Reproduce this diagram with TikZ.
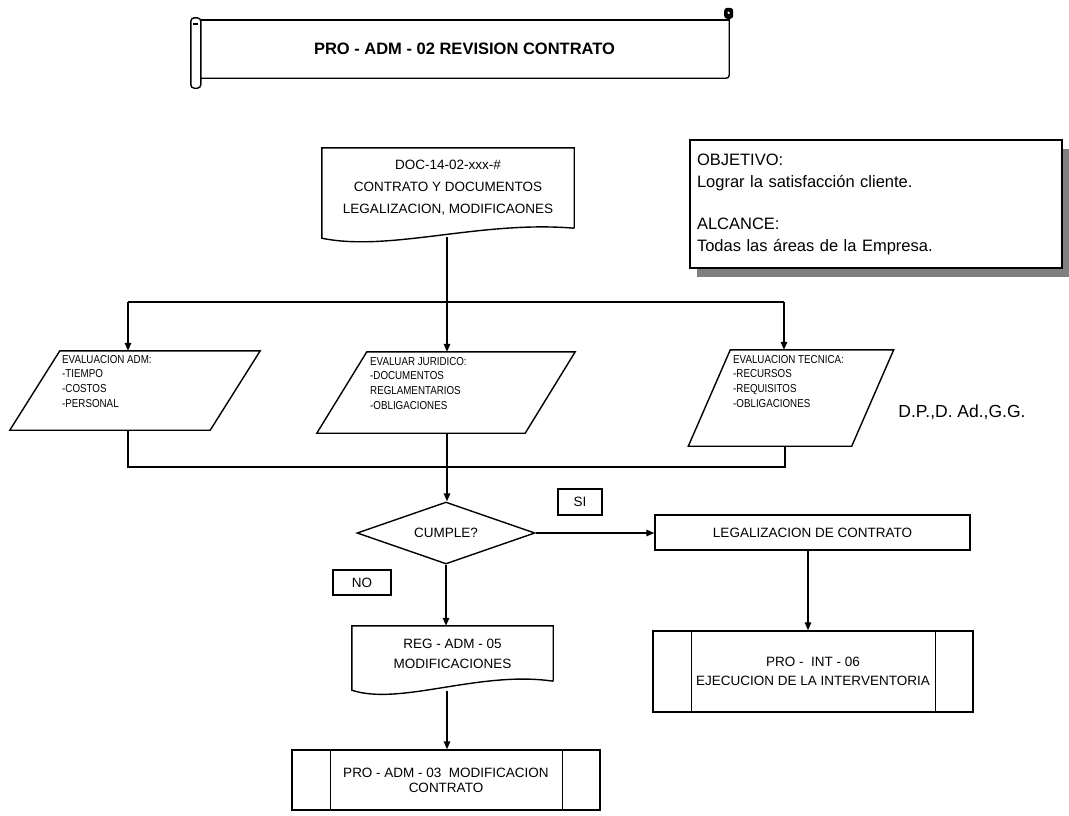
\documentclass[tikz,border=0pt]{standalone}
\usepackage{fontspec}
\setmainfont{Liberation Sans}
\newfontfamily\narrowfont[FakeStretch=0.85]{Liberation Sans}
\usetikzlibrary{arrows.meta,shapes.geometric,shadows}
\begin{document}
\begin{tikzpicture}[x=1pt,y=-1pt,
  ln/.style={line width=1.4pt},
  arr/.style={line width=1.4pt,-{Triangle[length=8pt,width=6.5pt]}},
  txt/.style={font=\fontsize{13.5pt}{15pt}\selectfont},
  box/.style={draw,line width=1.4pt,inner sep=0pt,align=center,txt},
  ghost/.style={draw=none,inner sep=0pt,align=center},
  ptxt/.style={anchor=north west,inner sep=0pt,align=left,font=\narrowfont\fontsize{11.5pt}{14.7pt}\selectfont}]
\useasboundingbox (0,0) rectangle (1069,815);
\fill[white] (0,0) rectangle (1069,815);

% title scroll
\node[ghost,minimum width=529,minimum height=58,font=\bfseries\fontsize{16.5pt}{18pt}\selectfont] (title) at (464.5,49) {PRO - ADM - 02 REVISION CONTRATO};
\draw[ln] (title.north west) -- (title.north east);
\draw[ln,rounded corners=3pt] (title.north east) -- (title.south east) -- (title.south west);
\draw[ln,fill=white,rounded corners=3.5pt] ([xshift=-9pt,yshift=2pt]title.north west) rectangle ([xshift=1pt,yshift=-10pt]title.south west);
\draw[ln] ([xshift=-7pt,yshift=-4pt]title.north west) -- ([xshift=-2pt,yshift=-4pt]title.north west);
\draw[ln] (title.north east) -- ([yshift=8pt]title.north east);
\fill[rounded corners=3pt] ([xshift=-5pt,yshift=12pt]title.north east) rectangle ([xshift=4pt,yshift=1pt]title.north east);
\fill[white] ([xshift=-0.5pt,yshift=7pt]title.north east) circle (1.3);

% objective box
\node[draw,line width=1.4pt,fill=white,minimum width=372,minimum height=128,text width=358pt,align=left,inner sep=0pt,
  drop shadow={shadow xshift=7pt,shadow yshift=-9pt,fill=black!50,opacity=1},
  font=\fontsize{16.5pt}{22pt}\selectfont] (obj) at (876,204)
  {OBJETIVO:\\Lograr la satisfacción cliente.\\[20pt]ALCANCE:\\Todas las áreas de la Empresa.};

% document
\node[ghost,minimum width=252,minimum height=80,font=\fontsize{13.5pt}{22pt}\selectfont] (doc) at (448,188) {DOC-14-02-xxx-\#\\CONTRATO Y DOCUMENTOS\\LEGALIZACION, MODIFICAONES};
\draw[ln] (doc.south east) -- (doc.north east) -- (doc.north west) -- ([yshift=-10pt]doc.south west)
  .. controls ([xshift=68pt,yshift=-24pt]doc.south west) and ([xshift=158pt,yshift=8pt]doc.south west) .. (doc.south east);
\coordinate (docb) at (447,237);

% parallelograms
\node[ghost,minimum width=200,minimum height=79] (p1) at (135,390.5) {};
\draw[ln] ([xshift=25pt]p1.north west) -- ([xshift=25pt]p1.north east) -- ([xshift=-25pt]p1.south east) -- ([xshift=-25pt]p1.south west) -- cycle;
\node[ptxt] (p1t) at (62,355) {EVALUACION ADM:\\-TIEMPO\\-COSTOS\\-PERSONAL};

\node[ghost,minimum width=208,minimum height=81] (p2) at (446,392.5) {};
\draw[ln] ([xshift=25pt]p2.north west) -- ([xshift=25pt]p2.north east) -- ([xshift=-25pt]p2.south east) -- ([xshift=-25pt]p2.south west) -- cycle;
\node[ptxt] (p2t) at (370,357) {EVALUAR JURIDICO:\\-DOCUMENTOS\\REGLAMENTARIOS\\-OBLIGACIONES};

\node[ghost,minimum width=163,minimum height=96] (p3) at (791,398) {};
\draw[ln] ([xshift=21pt]p3.north west) -- ([xshift=21pt]p3.north east) -- ([xshift=-21pt]p3.south east) -- ([xshift=-21pt]p3.south west) -- cycle;
\node[ptxt] (p3t) at (733,355) {EVALUACION TECNICA:\\-RECURSOS\\-REQUISITOS\\-OBLIGACIONES};

\node[inner sep=0pt,font=\fontsize{17.5pt}{20pt}\selectfont] (dp) at (962,412) {D.P.,D. Ad.,G.G.};

% split bar
\coordinate (sp) at (447,302);
\coordinate (spl) at (128,302);
\coordinate (spr) at (784,302);
\draw[ln] (docb) -- (sp);
\draw[ln] (spl) -- (spr);
\draw[arr] (spl) -- (spl |- p1.north);
\draw[arr] (sp) -- (sp |- p2.north);
\draw[arr] (spr) -- (spr |- p3.north);

% join bar
\coordinate (jl) at (128,467);
\coordinate (jr) at (785,467);
\coordinate (jm) at (447,467);
\draw[ln] (p1.south -| jl) -- (jl) -- (jr) -- (p3.south -| jr);
\draw[ln] (p2.south -| jm) -- (jm);

% decision
\node[draw,line width=1.4pt,diamond,aspect=2.87,minimum width=178,minimum height=62,inner sep=0pt,txt] (dia) at (446,533) {CUMPLE?};
\draw[arr] (jm) -- (jm |- dia.north);

\node[box,minimum width=44,minimum height=26] (si) at (580,502) {SI};
\node[box,minimum width=58,minimum height=25] (no) at (362,582.5) {NO};

\node[box,minimum width=315,minimum height=35] (leg) at (812.5,532.5) {LEGALIZACION DE CONTRATO};
\draw[arr] (dia.east) -- (dia.east -| leg.west);

\node[box,minimum width=320,minimum height=81,font=\fontsize{13.5pt}{19pt}\selectfont] (pint) at (813,671.5) {PRO -\ \ INT - 06\\EJECUCION DE LA INTERVENTORIA};
\draw[ln] ([xshift=39pt]pint.north west) -- ([xshift=39pt]pint.south west);
\draw[ln] ([xshift=-38pt]pint.north east) -- ([xshift=-38pt]pint.south east);
\coordinate (legs) at (808,550);
\draw[arr] (legs) -- (legs |- pint.north);

% register document
\node[ghost,minimum width=201,minimum height=55,font=\fontsize{13.5pt}{20pt}\selectfont] (reg) at (452.5,653.5) {REG - ADM - 05\\MODIFICACIONES};
\draw[ln] (reg.south east) -- (reg.north east) -- (reg.north west) -- ([yshift=-9pt]reg.south west)
  .. controls ([xshift=48pt,yshift=-25pt]reg.south west) and ([xshift=128pt,yshift=11pt]reg.south west) .. (reg.south east);
\draw[arr] (dia.south) -- (dia.south |- reg.north);
\coordinate (regb) at (447,691);

\node[box,minimum width=308,minimum height=60] (pro3) at (446,780) {PRO - ADM - 03\ \ MODIFICACION\\CONTRATO};
\draw[ln] ([xshift=39pt]pro3.north west) -- ([xshift=39pt]pro3.south west);
\draw[ln] ([xshift=-38pt]pro3.north east) -- ([xshift=-38pt]pro3.south east);
\draw[arr] (regb) -- (regb |- pro3.north);
\end{tikzpicture}
\end{document}
